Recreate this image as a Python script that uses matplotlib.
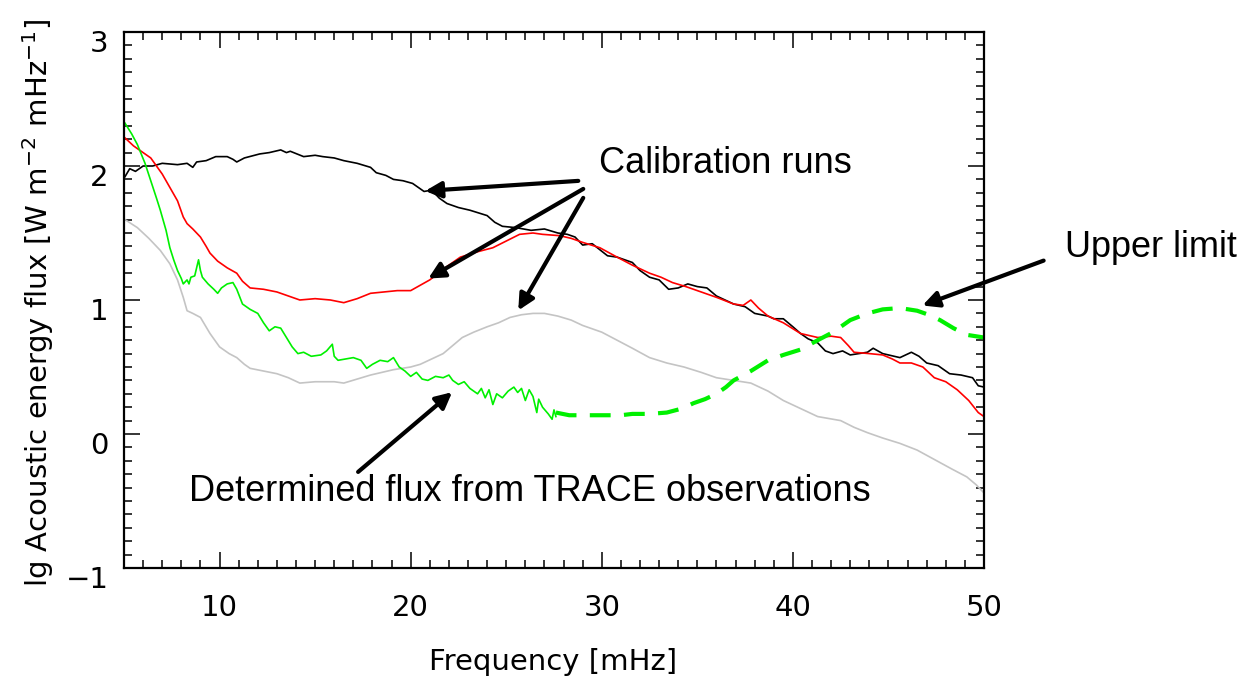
import matplotlib
matplotlib.use("Agg")
import matplotlib.pyplot as plt
from matplotlib.ticker import MultipleLocator, FixedLocator
from matplotlib.transforms import ScaledTranslation

# ---------------- data ----------------
black_x = [5.05, 5.3, 5.6, 6.0, 6.5, 7.0, 7.8, 8.3, 8.6, 8.8, 9.3, 9.8, 10.4, 10.7, 10.9, 11.3,
           12.1, 12.6, 13.2, 13.5, 13.7, 14.4, 15.0, 15.4, 16.0, 16.5, 17.2, 17.9, 18.2, 18.7,
           19.1, 19.6, 20.1, 20.5, 20.7, 21.1, 21.5, 21.9, 22.5, 23.1, 24.0, 24.4, 24.8, 25.5,
           26.3, 27.0, 27.7, 28.2, 28.6, 29.0, 29.5, 30.3, 30.8, 31.6, 32.0, 32.5, 33.0, 33.5,
           34.0, 34.5, 35.0, 35.5, 36.0, 36.9, 37.5, 38.0, 38.7, 39.0, 39.5, 40.0, 40.4, 40.8,
           41.3, 41.7, 42.1, 42.6, 43.0, 43.9, 44.2, 44.7, 45.6, 46.2, 46.6, 47.0, 47.6, 48.2,
           48.8, 49.4, 49.7, 50.0]
black_y = [1.92, 1.98, 1.96, 2.00, 2.00, 2.02, 2.01, 2.02, 1.99, 2.03, 2.04, 2.07, 2.07, 2.05, 2.03, 2.06,
           2.09, 2.10, 2.12, 2.10, 2.11, 2.07, 2.08, 2.07, 2.06, 2.04, 2.02, 1.99, 1.95, 1.93,
           1.90, 1.89, 1.87, 1.83, 1.81, 1.82, 1.76, 1.72, 1.69, 1.67, 1.63, 1.58, 1.55, 1.54,
           1.52, 1.53, 1.50, 1.49, 1.47, 1.41, 1.42, 1.33, 1.32, 1.28, 1.22, 1.17, 1.15, 1.08,
           1.09, 1.12, 1.10, 1.09, 1.03, 0.97, 0.95, 0.90, 0.88, 0.86, 0.86, 0.80, 0.75, 0.71,
           0.68, 0.62, 0.60, 0.62, 0.59, 0.61, 0.64, 0.60, 0.57, 0.61, 0.58, 0.53, 0.51, 0.45,
           0.44, 0.42, 0.36, 0.35]

red_x = [5.05, 5.5, 6.0, 6.4, 6.8, 7.0, 7.4, 7.8, 8.1, 8.3, 8.6, 9.0, 9.3, 9.5, 9.9, 10.4, 10.9,
         11.2, 11.6, 12.3, 13.0, 13.6, 14.2, 15.0, 15.8, 16.5, 17.2, 17.9, 18.6, 19.3, 20.0,
         20.5, 21.0, 21.8, 22.6, 23.5, 24.3, 25.0, 25.7, 26.4, 26.9, 27.8, 28.4, 29.0, 29.9,
         30.8, 31.6, 32.5, 33.1, 33.7, 34.4, 35.2, 36.0, 36.9, 37.4, 37.8, 38.2, 38.7, 39.5,
         40.4, 41.3, 42.0, 42.5, 42.9, 43.2, 44.0, 44.7, 45.2, 45.6, 46.2, 46.8, 47.4, 48.0,
         48.6, 49.2, 49.7, 50.0]
red_y = [2.21, 2.15, 2.10, 2.06, 1.98, 1.94, 1.84, 1.74, 1.62, 1.57, 1.53, 1.47, 1.40, 1.35, 1.29, 1.24, 1.20,
         1.14, 1.09, 1.08, 1.06, 1.03, 1.00, 1.01, 1.00, 0.98, 1.01, 1.05, 1.06, 1.07, 1.07,
         1.11, 1.15, 1.24, 1.32, 1.36, 1.39, 1.44, 1.49, 1.50, 1.49, 1.48, 1.46, 1.43, 1.39,
         1.32, 1.26, 1.20, 1.17, 1.13, 1.10, 1.06, 1.02, 0.97, 0.96, 1.00, 0.94, 0.88, 0.83,
         0.75, 0.72, 0.73, 0.72, 0.66, 0.61, 0.60, 0.59, 0.56, 0.53, 0.53, 0.50, 0.42, 0.39,
         0.33, 0.25, 0.16, 0.13]

gray_x = [5.05, 5.7, 6.3, 6.9, 7.4, 7.8, 8.1, 8.3, 8.6, 9.0, 9.5, 10.0, 10.5, 10.9, 11.3, 11.6,
          12.3, 13.0, 13.6, 14.2, 15.0, 16.0, 16.5, 17.2, 17.9, 18.5, 19.1, 20.0, 20.5, 21.1,
          21.7, 22.2, 22.7, 23.3, 24.0, 24.6, 25.2, 25.8, 26.4, 27.0, 27.7, 28.4, 29.0, 30.0,
          30.8, 31.6, 32.5, 33.4, 34.3, 35.2, 36.0, 36.9, 37.8, 38.7, 39.5, 40.4, 41.3, 42.5,
          43.2, 43.9, 44.7, 45.6, 46.5, 47.4, 48.3, 49.1, 49.6, 50.0]
gray_y = [1.60, 1.54, 1.46, 1.37, 1.27, 1.15, 1.02, 0.92, 0.90, 0.87, 0.75, 0.65, 0.60, 0.57, 0.52, 0.49,
          0.47, 0.45, 0.42, 0.38, 0.39, 0.39, 0.38, 0.41, 0.44, 0.46, 0.48, 0.50, 0.52, 0.56,
          0.60, 0.66, 0.72, 0.76, 0.80, 0.83, 0.87, 0.89, 0.90, 0.90, 0.88, 0.85, 0.81, 0.76,
          0.70, 0.64, 0.57, 0.53, 0.50, 0.46, 0.42, 0.40, 0.38, 0.32, 0.25, 0.19, 0.13, 0.10,
          0.05, 0.01, -0.03, -0.07, -0.12, -0.19, -0.26, -0.32, -0.38, -0.44]

trace_x = [5.05, 5.4, 5.7, 6.1, 6.4, 6.7, 6.9, 7.2, 7.4, 7.6, 7.8, 8.0, 8.1, 8.3, 8.4, 8.5, 8.7,
           8.9, 9.0, 9.1, 9.4, 9.7, 9.9, 10.1, 10.4, 10.7, 10.9, 11.2, 11.6, 12.0, 12.3, 12.6,
           12.9, 13.2, 13.5, 13.8, 14.1, 14.4, 14.8, 15.3, 15.6, 15.9, 16.0, 16.2, 16.6, 17.0,
           17.4, 17.7, 18.0, 18.4, 18.8, 19.1, 19.4, 19.7, 20.0, 20.3, 20.6, 20.9, 21.3, 21.7,
           22.0, 22.2, 22.5, 22.8, 23.1, 23.5, 23.7, 23.9, 24.1, 24.3, 24.5, 24.8, 25.1, 25.4,
           25.6, 25.8, 26.0, 26.2, 26.4, 26.6, 26.7, 26.9, 27.2, 27.4, 27.5, 27.6]
trace_y = [2.32, 2.24, 2.16, 2.02, 1.89, 1.76, 1.67, 1.52, 1.39, 1.30, 1.22, 1.16, 1.12, 1.15, 1.12, 1.17, 1.18,
           1.30, 1.22, 1.17, 1.12, 1.08, 1.05, 1.09, 1.12, 1.13, 1.08, 0.97, 0.93, 0.90, 0.83, 0.77,
           0.80, 0.79, 0.72, 0.65, 0.60, 0.61, 0.58, 0.59, 0.62, 0.67, 0.58, 0.55, 0.56, 0.57,
           0.55, 0.49, 0.52, 0.55, 0.54, 0.57, 0.50, 0.47, 0.43, 0.46, 0.41, 0.40, 0.43, 0.42,
           0.44, 0.40, 0.37, 0.39, 0.34, 0.30, 0.34, 0.27, 0.33, 0.22, 0.30, 0.27, 0.32, 0.35,
           0.31, 0.34, 0.25, 0.33, 0.28, 0.16, 0.26, 0.20, 0.15, 0.11, 0.18, 0.13]

upper_x = [27.6, 28.3, 29.0, 30.0, 31.0, 31.6, 32.5, 33.4, 34.2, 34.8, 35.4, 36.0, 36.5, 36.9,
           37.8, 38.7, 39.5, 40.4, 41.3, 42.1, 43.0, 43.9, 44.7, 45.6, 46.5, 47.1, 47.7, 48.4,
           49.1, 50.0]
upper_y = [0.16, 0.14, 0.14, 0.14, 0.14, 0.15, 0.15, 0.16, 0.19, 0.23, 0.26, 0.30, 0.35, 0.40,
           0.47, 0.55, 0.59, 0.63, 0.70, 0.76, 0.85, 0.90, 0.93, 0.94, 0.92, 0.89, 0.85, 0.79,
           0.74, 0.72]

x_ticks = [10, 20, 30, 40, 50]
y_ticks = [-1, 0, 1, 2, 3]
y_tick_labels = ["\u22121", "0", "1", "2", "3"]

# ---------------- figure ----------------
W, H = 1245, 683
fig = plt.figure(figsize=(W / 100, H / 100), dpi=100)
ax = fig.add_axes([124 / W, 1 - 568 / H, (984 - 124) / W, (568 - 32) / H])

ax.plot(gray_x, gray_y, color="#c4c4c4", lw=1.2)
ax.plot(black_x, black_y, color="black", lw=1.2)
ax.plot(red_x, red_y, color="#ff0000", lw=1.2)
ax.plot(trace_x, trace_y, color="#00f000", lw=1.2)
ax.plot(upper_x, upper_y, color="#00f000", lw=3.0, ls=(0, (5, 3.2)))

ax.set_xlim(5, 50)
ax.set_ylim(-1, 3)
ax.xaxis.set_major_locator(FixedLocator(x_ticks))
ax.xaxis.set_minor_locator(MultipleLocator(1))
ax.yaxis.set_major_locator(FixedLocator(y_ticks))
ax.yaxis.set_minor_locator(MultipleLocator(0.1))
ax.set_yticklabels(y_tick_labels)

for s in ax.spines.values():
    s.set_linewidth(1.6)
ax.tick_params(which="both", direction="in", top=True, right=True, width=1.1)
ax.tick_params(which="major", length=11.5)
ax.tick_params(which="minor", length=6)
ax.tick_params(axis="x", which="major", pad=19, labelsize=21)
ax.tick_params(axis="y", which="major", pad=11, labelsize=21)

fig.canvas.draw()
for lbl in ax.get_yticklabels():
    lbl.set_transform(lbl.get_transform() + ScaledTranslation(0, -0.09, fig.dpi_scale_trans))

fig.text(553 / W, 1 - 662 / H, "Frequency [mHz]", fontsize=21, ha="center", va="center")
fig.text(38 / W, 1 - 303 / H, r"lg Acoustic energy flux [W m$^{-2}$ mHz$^{-1}$]",
         fontsize=21, rotation=90, ha="center", va="center")

# ---------------- annotations ----------------
afont = dict(family="Liberation Sans", fontsize=26, color="black")
arrow = dict(arrowstyle="-|>", lw=3, color="black", mutation_scale=24, shrinkA=0, shrinkB=0)

ax.text(36.47, 2.015, "Calibration runs", ha="center", va="center", clip_on=False, **afont)
ax.annotate("", xy=(20.76, 1.814), xytext=(28.77, 1.889), arrowprops=arrow, annotation_clip=False)
ax.annotate("", xy=(20.92, 1.160), xytext=(29.03, 1.829), arrowprops=arrow, annotation_clip=False)
ax.annotate("", xy=(25.63, 0.922), xytext=(29.03, 1.762), arrowprops=arrow, annotation_clip=False)

ax.text(58.72, 1.39, "Upper limit", ha="center", va="center", clip_on=False, **afont)
ax.annotate("", xy=(46.78, 0.959), xytext=(53.12, 1.294), arrowprops=arrow, annotation_clip=False)

ax.text(26.26, -0.431, "Determined flux from TRACE observations", ha="center", va="center",
        clip_on=False, **afont)
ax.annotate("", xy=(22.17, 0.312), xytext=(17.25, -0.283), arrowprops=arrow, annotation_clip=False)

fig.savefig("out.png", dpi=100)
